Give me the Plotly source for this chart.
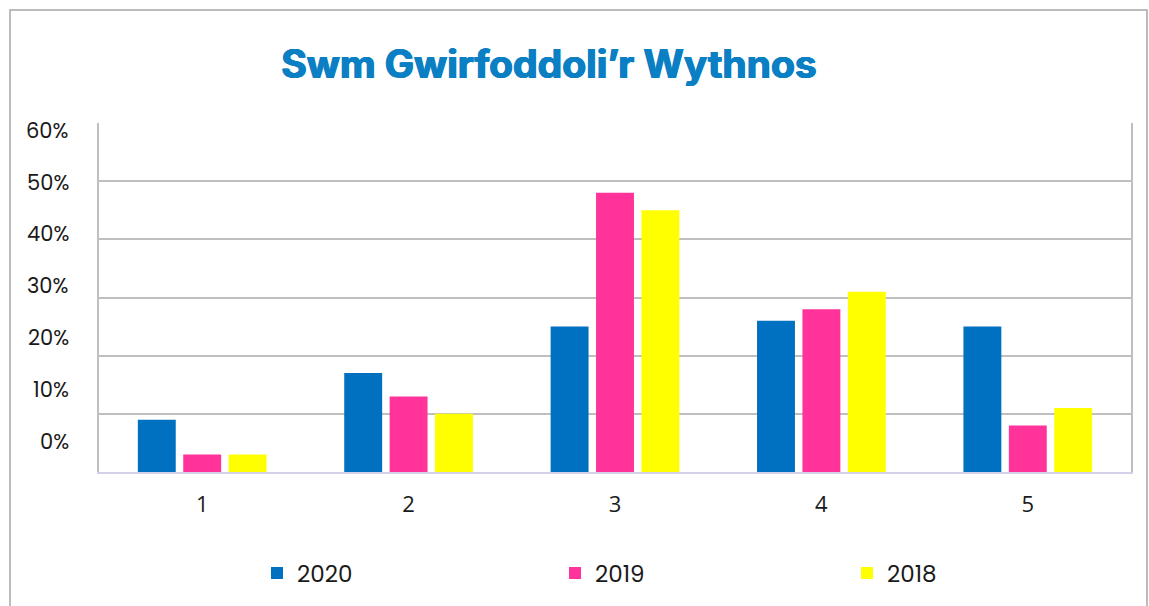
import plotly.graph_objects as go

categories = ["1", "2", "3", "4", "5"]
series_names = ["2020", "2019", "2018"]
values_2020 = [9, 17, 25, 26, 25]
values_2019 = [3, 13, 48, 28, 8]
values_2018 = [3, 10, 45, 31, 11]
y_tick_labels = ["0%", "10%", "20%", "30%", "40%", "50%", "60%"]

colors = ["#0070C0", "#FF3399", "#FFFF00"]
W, H = 1149, 606
L, R, T, B = 99, 18, 123, 134
pw, ph = W - L - R, H - T - B

def px_to_paper_x(px):
    return (px - L) / pw

def px_to_paper_y(py):
    return (H - B - py) / ph

legend_ids = ["legend", "legend2", "legend3"]
legend_px = [257, 555, 847]

fig = go.Figure()
for name, vals, col, lid in zip(series_names, [values_2020, values_2019, values_2018], colors, legend_ids):
    fig.add_trace(go.Bar(x=categories, y=vals, name=name, marker_color=col,
                         marker_line_width=0, legend=lid, showlegend=True))

font_main = "Poppins, 'Open Sans', 'Noto Sans', sans-serif"

annotations = []
for i, lab in enumerate(y_tick_labels):
    annotations.append(dict(
        text=lab, xref="paper", yref="paper",
        x=px_to_paper_x(71), y=px_to_paper_y(441 - i * 51.8),
        xanchor="right", yanchor="middle", showarrow=False,
        font=dict(family=font_main, size=21, color="#1a1a1a")))

legend_common = dict(orientation="h", xanchor="left", yanchor="middle",
                     yref="container", xref="container", visible=True,
                     font=dict(family=font_main, size=23, color="#1a1a1a"),
                     itemwidth=30, bgcolor="rgba(0,0,0,0)")

layout_legends = {}
for lid, lx in zip(legend_ids, legend_px):
    layout_legends[lid] = dict(legend_common, x=lx / W, y=1 - 573 / H)

title_color = "#0A7FC4"
fig.update_layout(
    width=W, height=H, showlegend=True,
    margin=dict(l=L, r=R, t=T, b=B, autoexpand=False),
    paper_bgcolor="white", plot_bgcolor="white",
    barmode="group", bargap=0.34, bargroupgap=0.165,
    title=dict(text="<b>Swm Gwirfoddoli’r Wythnos</b>", x=549 / W, xanchor="center",
               y=1 - 64 / H, yanchor="middle", yref="container", xref="container",
               font=dict(family="Inter, 'Open Sans', sans-serif", size=39,
                         color=title_color, weight=900,
                         shadow=f"0.7px 0 0 {title_color}, -0.7px 0 0 {title_color}, 0 0.5px 0 {title_color}")),
    xaxis=dict(showgrid=False, showline=True, linecolor="#D4D0EA", linewidth=2,
               ticks="", tickfont=dict(family="'Liberation Sans Narrow', 'Open Sans', sans-serif",
                                       size=22, color="#1a1a1a"),
               ticklabelstandoff=12, automargin=False),
    yaxis=dict(range=[0, 60], dtick=10, showgrid=True, gridcolor="#BFBFBF", gridwidth=1.8,
               showline=True, linecolor="#BFBFBF", linewidth=1.8, mirror=True,
               showticklabels=False, zeroline=False, automargin=False),
    annotations=annotations,
    shapes=[dict(type="rect", xref="paper", yref="paper",
                 x0=px_to_paper_x(10), x1=px_to_paper_x(1147),
                 y0=px_to_paper_y(640), y1=px_to_paper_y(10),
                 line=dict(color="#A6A6A6", width=1.5), fillcolor="rgba(0,0,0,0)",
                 layer="below")],
    **layout_legends,
)

fig.write_html("out.html", config={"displayModeBar": False},
               post_script="document.body.style.margin='0';")
